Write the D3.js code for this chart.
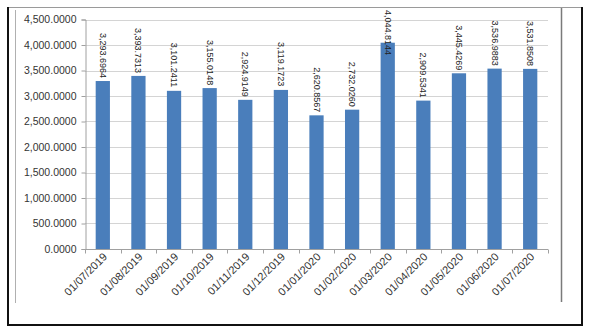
<!DOCTYPE html>
<html><head><meta charset="utf-8">
<script src="https://cdn.jsdelivr.net/npm/d3@7"></script>
<style>html,body{margin:0;padding:0;background:#fff;}svg{display:block;}</style>
</head><body>
<svg id="c" width="589" height="334"></svg>
<script>
const categories = ["01/07/2019","01/08/2019","01/09/2019","01/10/2019","01/11/2019","01/12/2019","01/01/2020","01/02/2020","01/03/2020","01/04/2020","01/05/2020","01/06/2020","01/07/2020"];
const values = [3293.6964,3393.7313,3101.2411,3155.0148,2924.9149,3119.1723,2620.8567,2732.0260,4044.8144,2909.5341,3445.4269,3536.9883,3531.8508];
const yTicks = [0,500,1000,1500,2000,2500,3000,3500,4000,4500];

const svg = d3.select("#c");
const fmt = d3.format(",.4f");
const font = "'Liberation Sans', Arial, sans-serif";

// frame
svg.append("line").attr("x1",8).attr("x2",582).attr("y1",7.5).attr("y2",7.5).attr("stroke","#9a9a9a").attr("stroke-width",1);
svg.append("line").attr("x1",8).attr("x2",8).attr("y1",7).attr("y2",326).attr("stroke","#111").attr("stroke-width",2);
svg.append("line").attr("x1",582).attr("x2",582).attr("y1",7).attr("y2",326).attr("stroke","#111").attr("stroke-width",2);
svg.append("line").attr("x1",7).attr("x2",583).attr("y1",325).attr("y2",325).attr("stroke","#111").attr("stroke-width",2);
svg.append("line").attr("x1",561.5).attr("x2",561.5).attr("y1",8).attr("y2",302).attr("stroke","#7a7a7a").attr("stroke-width",1.5);
svg.append("line").attr("x1",15.5).attr("x2",15.5).attr("y1",10).attr("y2",303).attr("stroke","#b0b0b0").attr("stroke-width",1);

const x = d3.scaleBand().domain(categories).range([85,548]).paddingInner(0.6).paddingOuter(0.3);
const y = d3.scaleLinear().domain([0,4500]).range([249,19.5]);

// gridlines
svg.append("g").selectAll("line").data(yTicks.slice(1)).join("line")
  .attr("x1",85).attr("x2",548).attr("y1",d=>Math.round(y(d))+0.5).attr("y2",d=>Math.round(y(d))+0.5)
  .attr("stroke","#d4d4d4").attr("stroke-width",1);

// y axis
const ya = svg.append("g").attr("transform","translate(85.5,0)")
  .call(d3.axisLeft(y).tickValues(yTicks).tickFormat(d=>fmt(d)).tickSize(4).tickPadding(5));
ya.select(".domain").attr("stroke","#a0a0a0");
ya.selectAll(".tick line").attr("stroke","#a0a0a0");
ya.selectAll(".tick text").attr("font-family",font).attr("font-size",10.5).attr("fill","#333");

// bars
svg.append("g").selectAll("rect").data(values).join("rect")
  .attr("x",(d,i)=>x(categories[i])).attr("width",x.bandwidth())
  .attr("y",d=>y(d)).attr("height",d=>y(0)-y(d))
  .attr("fill","#4a7ebb");

// x axis
const xb = d3.scaleLinear().domain([0,categories.length]).range([85,548]);
const xa = svg.append("g").attr("transform","translate(0,249.5)");
xa.append("line").attr("x1",85).attr("x2",548).attr("stroke","#a0a0a0");
xa.selectAll("line.t").data(d3.range(categories.length+1)).join("line").attr("class","t")
  .attr("x1",d=>Math.round(xb(d))+0.5).attr("x2",d=>Math.round(xb(d))+0.5).attr("y1",0).attr("y2",4).attr("stroke","#a0a0a0");
xa.selectAll("text").data(categories).join("text")
  .attr("transform",d=>`translate(${x(d)+x.bandwidth()/2+5},${8}) rotate(-45)`)
  .attr("text-anchor","end").attr("font-family",font).attr("font-size",11).attr("fill","#333")
  .text(d=>d);

// data labels
svg.append("g").selectAll("text").data(values).join("text")
  .attr("transform",(d,i)=>{
    const cx = x(categories[i])+x.bandwidth()/2;
    const w = 44;
    let end = y(d)-4;
    let start = Math.max(10, end - w);
    return `translate(${cx-3},${start}) rotate(90)`;
  })
  .attr("text-anchor","start").attr("font-family",font).attr("font-size",9).attr("fill","#222")
  .text(d=>fmt(d));
</script>
</body></html>
